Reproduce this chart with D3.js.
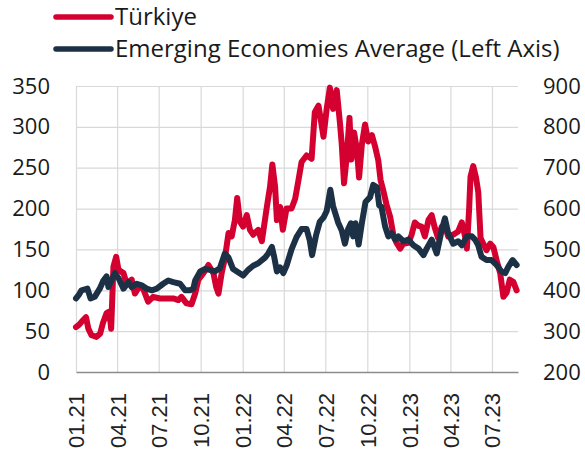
<!DOCTYPE html>
<html>
<head>
<meta charset="utf-8">
<script src="https://cdn.jsdelivr.net/npm/d3@7"></script>
<style>
  html, body { margin: 0; padding: 0; background: #fff; }
  svg { display: block; }
</style>
</head>
<body>
<svg id="viz"></svg>
<script>
// Türkiye CDS (right axis, bp)
const turkeyDates = [
  '2021-01-01','2021-01-08','2021-01-14','2021-01-23','2021-01-28','2021-02-04','2021-02-15','2021-02-23',
  '2021-03-01','2021-03-09','2021-03-15','2021-03-19','2021-03-24','2021-03-30','2021-04-04','2021-04-15',
  '2021-04-22','2021-05-03','2021-05-10','2021-05-21','2021-05-28','2021-06-08','2021-06-19','2021-07-04',
  '2021-07-19','2021-08-02','2021-08-13','2021-08-20','2021-08-31','2021-09-11','2021-09-19','2021-09-26',
  '2021-10-07','2021-10-18','2021-10-29','2021-11-04','2021-11-09','2021-11-16','2021-11-23','2021-12-01',
  '2021-12-08','2021-12-15','2021-12-20','2021-12-26','2022-01-02','2022-01-10','2022-01-17','2022-01-24',
  '2022-02-04','2022-02-12','2022-02-23','2022-03-02','2022-03-07','2022-03-13','2022-03-17','2022-03-24',
  '2022-03-30','2022-04-07','2022-04-18','2022-04-26','2022-05-03','2022-05-10','2022-05-21','2022-06-01',
  '2022-06-08','2022-06-16','2022-06-19','2022-06-27','2022-07-04','2022-07-11','2022-07-18','2022-07-26',
  '2022-08-02','2022-08-06','2022-08-11','2022-08-17','2022-08-23','2022-08-27','2022-09-02','2022-09-08',
  '2022-09-13','2022-09-19','2022-09-26','2022-10-03','2022-10-11','2022-10-18','2022-10-25','2022-10-30',
  '2022-11-05','2022-11-12','2022-11-20','2022-11-27','2022-12-04','2022-12-12','2022-12-19','2022-12-30',
  '2023-01-06','2023-01-13','2023-01-21','2023-01-28','2023-02-04','2023-02-12','2023-02-19','2023-02-26',
  '2023-03-05','2023-03-13','2023-03-20','2023-03-27','2023-04-07','2023-04-18','2023-04-26','2023-05-03',
  '2023-05-07','2023-05-12','2023-05-15','2023-05-21','2023-05-27','2023-06-01','2023-06-06','2023-06-12',
  '2023-06-19','2023-06-27','2023-07-04','2023-07-11','2023-07-19','2023-07-26','2023-08-02','2023-08-09',
  '2023-08-17','2023-08-24'
];
const turkeyValues = [
  310, 316, 324, 334, 306, 290, 286, 294,
  320, 344, 348, 306, 458, 482, 450, 442,
  416, 426, 392, 412, 404, 372, 384, 380,
  380, 380, 376, 384, 368, 366, 392, 426,
  442, 462, 442, 408, 392, 442, 478, 540,
  532, 572, 626, 568, 556, 584, 548, 536,
  548, 520, 604, 654, 708, 654, 572, 604,
  548, 600, 600, 624, 668, 714, 730, 722,
  836, 852, 832, 776, 844, 896, 844, 890,
  810, 758, 662, 728, 822, 720, 786, 746,
  676, 756, 806, 764, 780, 752, 718, 670,
  644, 610, 580, 536, 516, 502, 514, 516,
  536, 566, 558, 556, 532, 572, 584, 552,
  528, 556, 558, 532, 536, 544, 566, 532,
  502, 600, 678, 704, 676, 640, 528, 514,
  498, 514, 506, 474, 442, 384, 394, 426,
  420, 400
];

// Emerging economies average CDS (left axis, bp)
const emDates = [
  '2021-01-01','2021-01-08','2021-01-13','2021-01-26','2021-02-02','2021-02-11','2021-02-22','2021-03-02',
  '2021-03-09','2021-03-13','2021-03-20','2021-03-27','2021-04-04','2021-04-15','2021-04-26','2021-05-03',
  '2021-05-14','2021-05-25','2021-06-05','2021-06-16','2021-06-27','2021-07-11','2021-07-22','2021-08-02',
  '2021-08-17','2021-08-28','2021-09-08','2021-09-15','2021-09-19','2021-09-30','2021-10-11','2021-10-21',
  '2021-11-01','2021-11-12','2021-11-23','2021-12-01','2021-12-11','2021-12-22','2022-01-02','2022-01-13',
  '2022-01-24','2022-02-04','2022-02-19','2022-02-26','2022-03-06','2022-03-11','2022-03-17','2022-03-24',
  '2022-03-31','2022-04-07','2022-04-18','2022-04-29','2022-05-10','2022-05-21','2022-05-28','2022-06-02',
  '2022-06-11','2022-06-19','2022-06-27','2022-07-04','2022-07-12','2022-07-18','2022-07-29','2022-08-06',
  '2022-08-13','2022-08-20','2022-08-26','2022-08-31','2022-09-05','2022-09-12','2022-09-19','2022-09-27',
  '2022-10-07','2022-10-14','2022-10-22','2022-10-27','2022-11-01','2022-11-09','2022-11-16','2022-11-23',
  '2022-12-01','2022-12-08','2022-12-19','2022-12-30','2023-01-10','2023-01-21','2023-02-01','2023-02-08',
  '2023-02-19','2023-03-02','2023-03-13','2023-03-20','2023-03-27','2023-04-07','2023-04-18','2023-04-26',
  '2023-05-07','2023-05-18','2023-05-25','2023-06-01','2023-06-08','2023-06-19','2023-06-30','2023-07-11',
  '2023-07-22','2023-07-30','2023-08-06','2023-08-15','2023-08-24'
];
const emValues = [
  90, 95, 100, 102, 90, 92, 102, 112,
  117, 104, 112, 121, 115, 102, 110, 104,
  108, 106, 102, 100, 102, 108, 112, 110,
  108, 100, 100, 102, 112, 123, 126, 125,
  123, 127, 145, 140, 126, 122, 118, 125,
  130, 133, 140, 145, 153, 141, 123, 128,
  121, 130, 150, 165, 175, 175, 161, 143,
  168, 184, 189, 197, 223, 203, 183, 173,
  157, 175, 182, 166, 182, 156, 182, 208,
  214, 229, 226, 204, 202, 178, 166, 170,
  162, 166, 160, 162, 155, 151, 143, 151,
  162, 145, 174, 188, 170, 157, 160, 155,
  166, 166, 162, 155, 141, 137, 137, 131,
  123, 121, 129, 137, 131
];

const quarterTicks = ['2021-01-01','2021-04-01','2021-07-01','2021-10-01','2022-01-01','2022-04-01',
  '2022-07-01','2022-10-01','2023-01-01','2023-04-01','2023-07-01'];
const leftTicks = [0, 50, 100, 150, 200, 250, 300, 350];
const rightTicks = [200, 300, 400, 500, 600, 700, 800, 900];
const seriesNames = ['Türkiye', 'Emerging Economies Average (Left Axis)'];

(function() {
  const width = 585;
  const totalHeight = 456;
  const margin = { top: 86, right: 67, bottom: 84, left: 76 };
  const innerWidth = width - margin.left - margin.right;
  const height = totalHeight - margin.top - margin.bottom;

  const red = '#d40030';
  const navy = '#1c3146';
  const parse = d3.timeParse('%Y-%m-%d');

  const svgRoot = d3.select('#viz')
    .attr('width', width)
    .attr('height', totalHeight)
    .attr('viewBox', `0 0 ${width} ${totalHeight}`);

  const svg = svgRoot.append('g').attr('transform', `translate(${margin.left}, ${margin.top})`);

  const turkey = turkeyDates.map((d, i) => ({ date: parse(d), value: turkeyValues[i] }));
  const em = emDates.map((d, i) => ({ date: parse(d), value: emValues[i] }));
  const ticks = quarterTicks.map(parse);

  const x = d3.scaleTime()
    .domain([parse('2021-01-01'), parse('2023-08-27')])
    .range([0, innerWidth]);
  const yLeft = d3.scaleLinear().domain([0, 350]).range([height, 0]);
  const yRight = d3.scaleLinear().domain([200, 900]).range([height, 0]);

  // grid
  svg.append('g')
    .call(d3.axisLeft(yLeft).tickValues(leftTicks.filter(v => v > 0)).tickSize(-innerWidth).tickFormat(''))
    .call(g => g.select('.domain').remove())
    .selectAll('line').attr('stroke', '#d9d9d9').attr('stroke-width', 1.2);

  svg.append('g')
    .attr('transform', `translate(0,${height})`)
    .call(d3.axisBottom(x).tickValues(ticks).tickSize(-height).tickFormat(''))
    .call(g => g.select('.domain').remove())
    .selectAll('line').attr('stroke', '#d9d9d9').attr('stroke-width', 1.2);

  // bottom axis
  const xAxis = svg.append('g')
    .attr('transform', `translate(0,${height})`)
    .call(d3.axisBottom(x).tickValues(ticks).tickSize(0).tickFormat(d3.timeFormat('%m.%y')));
  xAxis.select('.domain').attr('stroke', '#8c8c8c').attr('stroke-width', 1.5);
  xAxis.selectAll('text')
    .attr('transform', 'rotate(-90)')
    .attr('x', -21)
    .attr('y', 0)
    .attr('dy', '0.36em')
    .style('text-anchor', 'end')
    .style('font-family', '"Liberation Sans", Arial, sans-serif')
    .style('font-size', '22px')
    .attr('fill', '#222');

  // left axis
  const leftAxis = svg.append('g')
    .call(d3.axisLeft(yLeft).tickValues(leftTicks).tickSize(0).tickPadding(26));
  leftAxis.select('.domain').remove();
  leftAxis.selectAll('text')
    .style('font-family', '"Open Sans", sans-serif')
    .style('font-size', '22px')
    .attr('fill', '#1a1a1a');

  // right axis
  const rightAxis = svg.append('g')
    .attr('transform', `translate(${innerWidth},0)`)
    .call(d3.axisRight(yRight).tickValues(rightTicks).tickSize(0).tickPadding(25));
  rightAxis.select('.domain').remove();
  rightAxis.selectAll('text')
    .style('font-family', '"Open Sans", sans-serif')
    .style('font-size', '22px')
    .attr('fill', '#1a1a1a');

  // lines
  const lineRight = d3.line().x(d => x(d.date)).y(d => yRight(d.value));
  const lineLeft = d3.line().x(d => x(d.date)).y(d => yLeft(d.value));

  svg.append('path')
    .datum(turkey)
    .attr('fill', 'none')
    .attr('stroke', red)
    .attr('stroke-width', 6)
    .attr('stroke-linejoin', 'round')
    .attr('stroke-linecap', 'round')
    .attr('d', lineRight);

  svg.append('path')
    .datum(em)
    .attr('fill', 'none')
    .attr('stroke', navy)
    .attr('stroke-width', 6)
    .attr('stroke-linejoin', 'round')
    .attr('stroke-linecap', 'round')
    .attr('d', lineLeft);

  // legend
  const legend = svgRoot.append('g');
  const colors = [red, navy];
  const legendY = [17, 49];
  seriesNames.forEach((name, i) => {
    const g = legend.append('g').attr('transform', `translate(0, ${legendY[i]})`);
    g.append('line')
      .attr('x1', 56).attr('x2', 111)
      .attr('stroke', colors[i])
      .attr('stroke-width', 5.5)
      .attr('stroke-linecap', 'round');
    g.append('text')
      .attr('x', 115)
      .attr('dy', '0.35em')
      .style('font-family', '"Open Sans", sans-serif')
      .style('font-size', '24px')
      .attr('fill', '#1a1a1a')
      .text(name);
  });
})();
</script>
</body>
</html>
